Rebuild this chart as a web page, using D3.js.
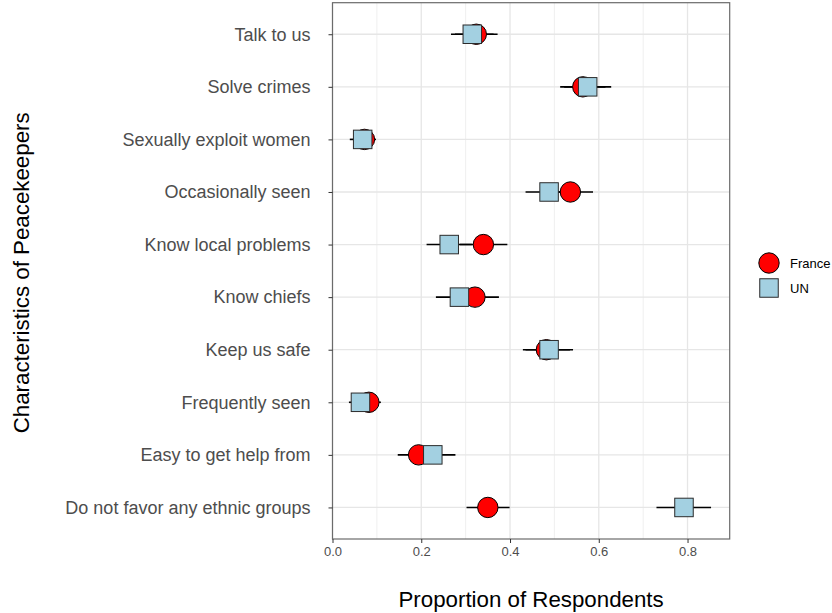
<!DOCTYPE html>
<html>
<head>
<meta charset="utf-8">
<script src="https://cdn.jsdelivr.net/npm/d3@7/dist/d3.min.js"></script>
<style>
  body { margin: 0; background: #fff; }
  text { font-family: "Liberation Sans", Arial, Helvetica, sans-serif; }
</style>
</head>
<body>
<svg id="chart" width="832" height="613"></svg>
<script>
// Categories, top to bottom
const categories = [
  "Talk to us", "Solve crimes", "Sexually exploit women", "Occasionally seen",
  "Know local problems", "Know chiefs", "Keep us safe", "Frequently seen",
  "Easy to get help from", "Do not favor any ethnic groups"
];
// France: estimate, lower, upper
const franceEst = [0.324, 0.564, 0.072, 0.536, 0.340, 0.321, 0.482, 0.082, 0.194, 0.350];
const franceLo  = [0.276, 0.513, 0.046, 0.485, 0.287, 0.268, 0.429, 0.056, 0.147, 0.302];
const franceHi  = [0.372, 0.615, 0.098, 0.587, 0.394, 0.375, 0.535, 0.109, 0.241, 0.399];
// UN: estimate, lower, upper
const unEst = [0.315, 0.575, 0.068, 0.488, 0.263, 0.286, 0.488, 0.063, 0.226, 0.792];
const unLo  = [0.267, 0.522, 0.039, 0.435, 0.212, 0.233, 0.435, 0.037, 0.175, 0.730];
const unHi  = [0.363, 0.628, 0.095, 0.541, 0.314, 0.339, 0.542, 0.090, 0.277, 0.853];
const xTicks = [0, 0.2, 0.4, 0.6, 0.8];
const xMinor = [0.1, 0.3, 0.5, 0.7];
const seriesNames = ["France", "UN"];

const svg = d3.select("#chart");
const L = 332.5, R = 729.7, T = 2.7, B = 539;

const x = d3.scaleLinear().domain([0, 0.895]).range([L, R]);
const y = d3.scalePoint().domain(categories).range([T, B]).padding(0.6);

const france = categories.map((c, i) => ({c, v: franceEst[i], lo: franceLo[i], hi: franceHi[i]}));
const un = categories.map((c, i) => ({c, v: unEst[i], lo: unLo[i], hi: unHi[i]}));

// grid
const g = svg.append("g");
g.selectAll(".minor").data(xMinor).join("line")
  .attr("x1", d => x(d)).attr("x2", d => x(d)).attr("y1", T).attr("y2", B)
  .attr("stroke", "#ebebeb").attr("stroke-width", 0.8);
g.selectAll(".major").data(xTicks).join("line")
  .attr("x1", d => x(d)).attr("x2", d => x(d)).attr("y1", T).attr("y2", B)
  .attr("stroke", "#e6e6e6").attr("stroke-width", 1.3);
g.selectAll(".hmajor").data(categories).join("line")
  .attr("x1", L).attr("x2", R).attr("y1", d => y(d)).attr("y2", d => y(d))
  .attr("stroke", "#e6e6e6").attr("stroke-width", 1.3);

// error bars
const eb = svg.append("g");
[france, un].forEach(s => {
  eb.selectAll(null).data(s).join("line")
    .attr("x1", d => x(d.lo)).attr("x2", d => x(d.hi))
    .attr("y1", d => y(d.c)).attr("y2", d => y(d.c))
    .attr("stroke", "#000").attr("stroke-width", 1.6);
});

// France points
svg.append("g").selectAll("circle").data(france).join("circle")
  .attr("cx", d => x(d.v)).attr("cy", d => y(d.c)).attr("r", 10.2)
  .attr("fill", "#ff0000").attr("stroke", "#000").attr("stroke-width", 1);

// UN points
const sq = 18.5;
svg.append("g").selectAll("rect").data(un).join("rect")
  .attr("x", d => x(d.v) - sq / 2).attr("y", d => y(d.c) - sq / 2)
  .attr("width", sq).attr("height", sq)
  .attr("fill", "#a3d0e1").attr("stroke", "#2b2b2b").attr("stroke-width", 1);

// panel border
svg.append("rect").attr("x", L).attr("y", T).attr("width", R - L).attr("height", B - T)
  .attr("fill", "none").attr("stroke", "#6b6b6b").attr("stroke-width", 1.2);

// axes
const xAxis = svg.append("g").attr("transform", `translate(0,${B})`)
  .call(d3.axisBottom(x).tickValues(xTicks).tickFormat(d3.format(".1f")).tickSize(4).tickPadding(4));
xAxis.select(".domain").remove();
xAxis.selectAll(".tick line").attr("stroke", "#333");
xAxis.selectAll(".tick text").attr("fill", "#4d4d4d").attr("font-size", "13px")
  .style("font-family", "'Liberation Sans', Arial, sans-serif");

const yAxis = svg.append("g").attr("transform", `translate(${L},0)`)
  .call(d3.axisLeft(y).tickSize(4).tickPadding(18));
yAxis.select(".domain").remove();
yAxis.selectAll(".tick line").attr("stroke", "#333");
yAxis.selectAll(".tick text").attr("fill", "#4d4d4d").attr("font-size", "18px")
  .style("font-family", "'Liberation Sans', Arial, sans-serif");

// axis titles
svg.append("text").attr("x", (L + R) / 2).attr("y", 606.5).attr("text-anchor", "middle")
  .attr("font-size", "22.3px").attr("fill", "#000").text("Proportion of Respondents");
svg.append("text").attr("transform", `translate(29,${(T + B) / 2 + 2}) rotate(-90)`)
  .attr("text-anchor", "middle").attr("font-size", "22.3px").attr("fill", "#000")
  .text("Characteristics of Peacekeepers");

// legend
const leg = svg.append("g");
leg.append("circle").attr("cx", 769).attr("cy", 263).attr("r", 10.2)
  .attr("fill", "#ff0000").attr("stroke", "#000").attr("stroke-width", 1);
leg.append("rect").attr("x", 769 - sq / 2).attr("y", 288 - sq / 2).attr("width", sq).attr("height", sq)
  .attr("fill", "#a3d0e1").attr("stroke", "#2b2b2b").attr("stroke-width", 1);
leg.selectAll(".lt").data(seriesNames).join("text")
  .attr("x", 790).attr("y", (d, i) => i === 0 ? 263 : 288).attr("dy", "0.35em")
  .attr("font-size", "13px").attr("fill", "#000").text(d => d);
</script>
</body>
</html>
